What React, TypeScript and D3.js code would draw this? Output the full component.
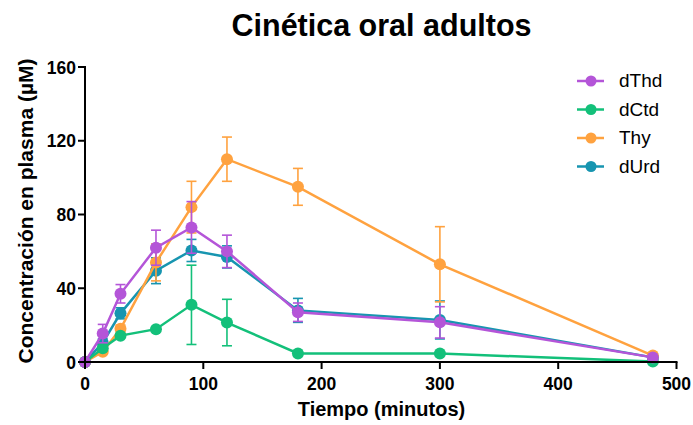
import React from "react";
import * as d3 from "d3";

const times = [0, 15, 30, 60, 90, 120, 180, 300, 480];
const seriesNames = ["dThd", "dCtd", "Thy", "dUrd"];
const colors = ["#B455D8", "#13C07A", "#FFA23F", "#1795B0"];
const dThd = [0, 15.4, 37, 62, 73, 60, 27, 21.5, 2.5];
const dThdErr = [0, 5, 5, 9.5, 14, 8.8, 5, 8.5, 0];
const dCtd = [0, 7.4, 14.3, 17.8, 31, 21.4, 4.6, 4.6, 0.3];
const dCtdErr = [0, 1, 1, 0, 21.5, 12.6, 0, 0, 0];
const Thy = [0, 5.6, 18, 54, 84, 110, 95, 53, 3.5];
const ThyErr = [0, 1, 2, 10, 14, 12, 10, 20.4, 0];
const dUrd = [0, 10.5, 26.4, 49.5, 60.5, 57, 28, 22.8, 2.5];
const dUrdErr = [0, 2, 3, 7, 6, 6, 6.5, 10.3, 0];
const xTicks = [0, 100, 200, 300, 400, 500];
const yTicks = [0, 40, 80, 120, 160];

const values = [dThd, dCtd, Thy, dUrd];
const errs = [dThdErr, dCtdErr, ThyErr, dUrdErr];

export default function App() {
  const W = 693, H = 425;
  const x = d3.scaleLinear().domain([0, 500]).range([85, 676.5]);
  const y = d3.scaleLinear().domain([0, 160]).range([362, 67]);
  const line = d3.line<number>().x((_, i) => x(times[i])).y((v) => y(v));
  const font = "'Liberation Sans', Arial, sans-serif";
  const order = [3, 2, 1, 0];
  return (
    <svg width={W} height={H} style={{ position: "absolute", left: 0, top: 0, background: "#fff" }} fontFamily={font}>
      <text x={381.5} y={36} textAnchor="middle" fontSize={30.5} fontWeight="bold">Cinética oral adultos</text>
      {order.map((s) => (
        <g key={s}>
          {values[s].map((v, i) => {
            const e = errs[s][i];
            if (!e) return null;
            const cx = x(times[i]);
            return (
              <g key={i} stroke={colors[s]} strokeWidth={1.6}>
                <line x1={cx} x2={cx} y1={y(v + e)} y2={y(v - e)} />
                <line x1={cx - 5} x2={cx + 5} y1={y(v + e)} y2={y(v + e)} />
                <line x1={cx - 5} x2={cx + 5} y1={y(v - e)} y2={y(v - e)} />
              </g>
            );
          })}
          <path d={line(values[s]) || ""} fill="none" stroke={colors[s]} strokeWidth={2.5} />
          {values[s].map((v, i) => (
            <circle key={i} cx={x(times[i])} cy={y(v)} r={6} fill={colors[s]} />
          ))}
        </g>
      ))}
      <g stroke="#000" strokeWidth={2}>
        <line x1={85} x2={85} y1={66} y2={363} />
        <line x1={84} x2={677.5} y1={362} y2={362} />
        {xTicks.map((t) => (
          <line key={t} x1={x(t)} x2={x(t)} y1={362} y2={369} />
        ))}
        {yTicks.map((t) => (
          <line key={t} x1={78} x2={85} y1={y(t)} y2={y(t)} />
        ))}
      </g>
      {xTicks.map((t) => (
        <text key={t} x={x(t)} y={390} textAnchor="middle" fontSize={17.5} fontWeight="bold">{t}</text>
      ))}
      {yTicks.map((t) => (
        <text key={t} x={76} y={y(t) + 6.5} textAnchor="end" fontSize={17.5} fontWeight="bold">{t}</text>
      ))}
      <text x={381.5} y={416} textAnchor="middle" fontSize={20} fontWeight="bold">Tiempo (minutos)</text>
      <text transform="translate(33,211) rotate(-90)" textAnchor="middle" fontSize={21} fontWeight="bold">Concentración en plasma (µM)</text>
      {seriesNames.map((n, i) => {
        const ly = 81 + i * 28.5;
        return (
          <g key={n}>
            <line x1={577} x2={604} y1={ly} y2={ly} stroke={colors[i]} strokeWidth={2.5} />
            <circle cx={591} cy={ly} r={5.5} fill={colors[i]} />
            <text x={619} y={ly + 6} fontSize={19}>{n}</text>
          </g>
        );
      })}
    </svg>
  );
}
